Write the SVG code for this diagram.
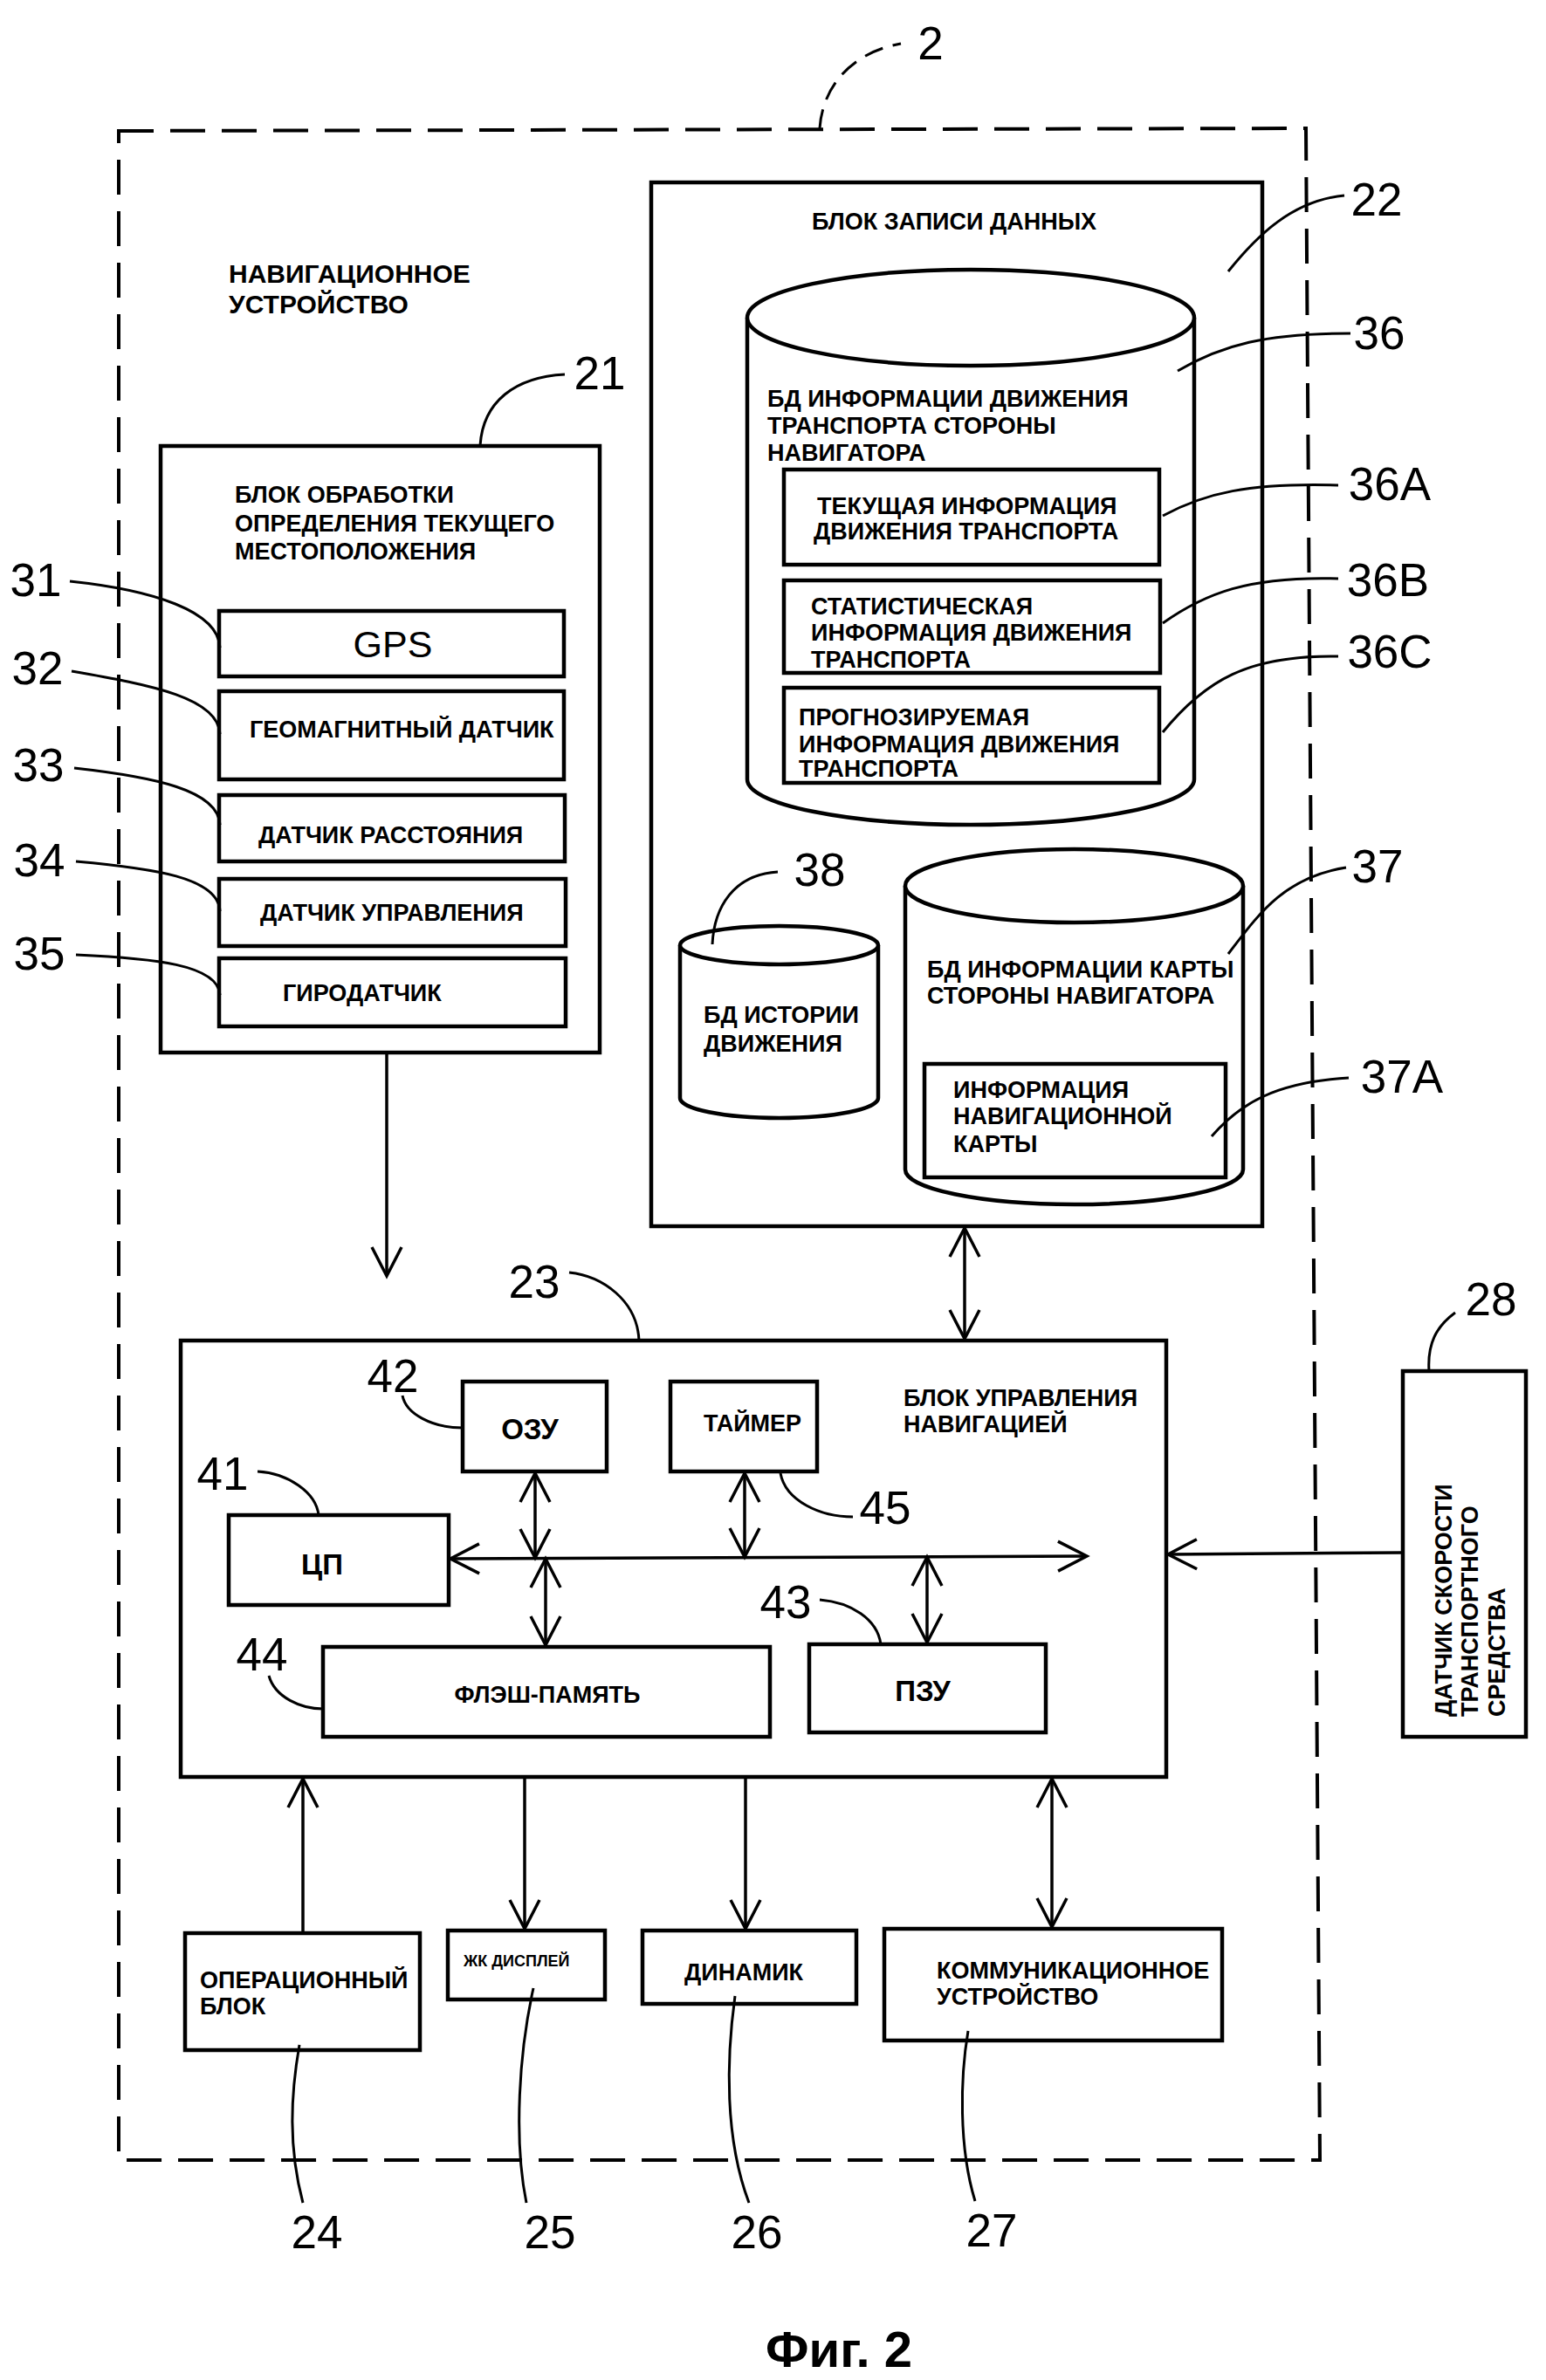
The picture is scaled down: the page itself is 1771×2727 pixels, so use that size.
<svg xmlns="http://www.w3.org/2000/svg" width="1771" height="2727" viewBox="0 0 1771 2727">
<defs>
<style>
.bx{fill:#fff;stroke:#000;stroke-width:4.5}
.cyl{fill:#fff;stroke:#000;stroke-width:4.5}
.ld{fill:none;stroke:#000;stroke-width:3}
.cn{fill:none;stroke:#000;stroke-width:3.5}
.t{font-family:"Liberation Sans",Arial,sans-serif;font-weight:bold;font-size:27px;fill:#000}
.t.tt{font-size:30px}
.t.big{font-size:33px}
.t.sm{font-size:18px}
.n{font-family:"Liberation Sans Narrow","Liberation Sans",Arial,sans-serif;font-size:53px;fill:#000;text-anchor:middle}
.c{text-anchor:middle}
</style>
<marker id="ah" viewBox="0 0 34 34" refX="33" refY="17" markerWidth="34" markerHeight="34" markerUnits="userSpaceOnUse" orient="auto-start-reverse" overflow="visible">
<path d="M0,0 L33,17 L0,34" fill="none" stroke="#000" stroke-width="3.5"/>
</marker>
</defs>
<rect width="1771" height="2727" fill="#fff"/>

<g id="device2">
<path d="M136,150 L1496,147 L1512,2475 L136,2475 Z" fill="none" stroke="#000" stroke-width="4" stroke-dasharray="40 19"/>
<path d="M939,147 C942,100 975,60 1032,50" fill="none" stroke="#000" stroke-width="3" stroke-dasharray="22 12"/>
<text class="n" x="1066" y="68">2</text>
<text class="t tt" x="262" y="324">НАВИГАЦИОННОЕ</text>
<text class="t tt" x="262" y="359">УСТРОЙСТВО</text>
</g>

<g id="node21">
<rect class="bx" x="184" y="511" width="503" height="695"/>
<text class="t" x="269" y="576">БЛОК ОБРАБОТКИ</text>
<text class="t" x="269" y="609">ОПРЕДЕЛЕНИЯ ТЕКУЩЕГО</text>
<text class="t" x="269" y="641">МЕСТОПОЛОЖЕНИЯ</text>
<path class="ld" d="M550,511 C553,460 590,432 647,429"/>
<text class="n" x="687" y="446">21</text>
</g>

<g id="node31">
<rect class="bx" x="251" y="700" width="395" height="75"/>
<text x="450" y="753" font-family="'Liberation Sans Narrow','Liberation Sans',Arial,sans-serif" font-size="43" text-anchor="middle">GPS</text>
<path class="ld" d="M80,666 C175,676 250,700 252,742"/>
<text class="n" x="41" y="683">31</text>
</g>
<g id="node32">
<rect class="bx" x="251" y="792" width="395" height="101"/>
<text class="t" x="286" y="845">ГЕОМАГНИТНЫЙ ДАТЧИК</text>
<path class="ld" d="M82,769 C175,785 250,800 252,841"/>
<text class="n" x="43" y="784">32</text>
</g>
<g id="node33">
<rect class="bx" x="251" y="911" width="396" height="76"/>
<text class="t" x="296" y="966">ДАТЧИК РАССТОЯНИЯ</text>
<path class="ld" d="M85,880 C175,890 250,905 252,945"/>
<text class="n" x="44" y="895">33</text>
</g>
<g id="node34">
<rect class="bx" x="251" y="1007" width="397" height="77"/>
<text class="t" x="298" y="1055">ДАТЧИК УПРАВЛЕНИЯ</text>
<path class="ld" d="M87,987 C175,995 250,1005 252,1044"/>
<text class="n" x="45" y="1004">34</text>
</g>
<g id="node35">
<rect class="bx" x="251" y="1098" width="397" height="78"/>
<text class="t" x="324" y="1147">ГИРОДАТЧИК</text>
<path class="ld" d="M87,1094 C175,1098 250,1105 252,1140"/>
<text class="n" x="45" y="1111">35</text>
</g>

<g id="node22">
<rect class="bx" x="746" y="209" width="700" height="1196"/>
<text class="t" x="930" y="263">БЛОК ЗАПИСИ ДАННЫХ</text>
<path class="ld" d="M1407,311 C1440,270 1480,230 1540,224"/>
<text class="n" x="1577" y="247">22</text>
</g>

<g id="node36">
<path class="cyl" d="M856,364 L856,893 A256,52 0 0 0 1368,893 L1368,364 A256,55 0 0 0 856,364 Z"/>
<path class="cyl" d="M856,364 A256,55 0 0 0 1368,364" fill="none"/>
<text class="t" x="879" y="466">БД ИНФОРМАЦИИ ДВИЖЕНИЯ</text>
<text class="t" x="879" y="497">ТРАНСПОРТА СТОРОНЫ</text>
<text class="t" x="879" y="528">НАВИГАТОРА</text>
<path class="ld" d="M1349,425 C1400,395 1450,382 1547,382"/>
<text class="n" x="1580" y="400">36</text>
</g>
<g id="node36A">
<rect class="bx" x="898" y="538" width="430" height="109"/>
<text class="t" x="936" y="589">ТЕКУЩАЯ ИНФОРМАЦИЯ</text>
<text class="t" x="932" y="618">ДВИЖЕНИЯ ТРАНСПОРТА</text>
<path class="ld" d="M1332,591 C1380,565 1430,553 1533,556"/>
<text class="n" x="1592" y="573">36A</text>
</g>
<g id="node36B">
<rect class="bx" x="898" y="665" width="431" height="106"/>
<text class="t" x="929" y="704">СТАТИСТИЧЕСКАЯ</text>
<text class="t" x="929" y="734">ИНФОРМАЦИЯ ДВИЖЕНИЯ</text>
<text class="t" x="929" y="765">ТРАНСПОРТА</text>
<path class="ld" d="M1332,714 C1380,680 1430,660 1533,663"/>
<text class="n" x="1590" y="683">36B</text>
</g>
<g id="node36C">
<rect class="bx" x="898" y="788" width="430" height="109"/>
<text class="t" x="915" y="831">ПРОГНОЗИРУЕМАЯ</text>
<text class="t" x="915" y="862">ИНФОРМАЦИЯ ДВИЖЕНИЯ</text>
<text class="t" x="915" y="890">ТРАНСПОРТА</text>
<path class="ld" d="M1332,839 C1380,780 1430,750 1533,752"/>
<text class="n" x="1592" y="765">36C</text>
</g>

<g id="node38">
<path class="cyl" d="M779,1083 L779,1258 A113.5,23 0 0 0 1006,1258 L1006,1083 A113.5,22 0 0 0 779,1083 Z"/>
<path class="cyl" d="M779,1083 A113.5,22 0 0 0 1006,1083" fill="none"/>
<text class="t" x="806" y="1172">БД ИСТОРИИ</text>
<text class="t" x="806" y="1205">ДВИЖЕНИЯ</text>
<path class="ld" d="M816,1082 C818,1040 840,1002 891,999"/>
<text class="n" x="939" y="1015">38</text>
</g>

<g id="node37">
<path class="cyl" d="M1037,1015 L1037,1340 A193.5,40 0 0 0 1424,1340 L1424,1015 A193.5,42 0 0 0 1037,1015 Z"/>
<path class="cyl" d="M1037,1015 A193.5,42 0 0 0 1424,1015" fill="none"/>
<text class="t" x="1062" y="1120">БД ИНФОРМАЦИИ КАРТЫ</text>
<text class="t" x="1062" y="1150">СТОРОНЫ НАВИГАТОРА</text>
<path class="ld" d="M1407,1093 C1440,1050 1470,1005 1542,994"/>
<text class="n" x="1578" y="1011">37</text>
</g>
<g id="node37A">
<rect class="bx" x="1059" y="1219" width="345" height="130"/>
<text class="t" x="1092" y="1258">ИНФОРМАЦИЯ</text>
<text class="t" x="1092" y="1288">НАВИГАЦИОННОЙ</text>
<text class="t" x="1092" y="1320">КАРТЫ</text>
<path class="ld" d="M1388,1302 C1420,1265 1460,1240 1545,1235"/>
<text class="n" x="1606" y="1252">37A</text>
</g>

<g id="node23">
<rect class="bx" x="207" y="1536" width="1129" height="500"/>
<text class="t" x="1035" y="1611">БЛОК УПРАВЛЕНИЯ</text>
<text class="t" x="1035" y="1641">НАВИГАЦИЕЙ</text>
<path class="ld" d="M652,1458 C690,1462 730,1490 732,1536"/>
<text class="n" x="612" y="1487">23</text>
</g>
<g id="node42">
<rect class="bx" x="530" y="1583" width="165" height="103"/>
<text class="t big c" x="607" y="1649">ОЗУ</text>
<path class="ld" d="M461,1599 C465,1620 495,1636 530,1636"/>
<text class="n" x="450" y="1595">42</text>
</g>
<g id="node45">
<rect class="bx" x="768" y="1583" width="168" height="103"/>
<text class="t c" x="862" y="1640">ТАЙМЕР</text>
<path class="ld" d="M894,1688 C900,1720 940,1738 977,1738"/>
<text class="n" x="1014" y="1746">45</text>
</g>
<g id="node41">
<rect class="bx" x="262" y="1736" width="252" height="103"/>
<text class="t big c" x="369" y="1804">ЦП</text>
<path class="ld" d="M295,1686 C330,1688 362,1710 365,1736"/>
<text class="n" x="255" y="1707">41</text>
</g>
<g id="node44">
<rect class="bx" x="370" y="1887" width="512" height="103"/>
<text class="t c" x="627" y="1951">ФЛЭШ-ПАМЯТЬ</text>
<path class="ld" d="M308,1920 C315,1945 345,1958 370,1958"/>
<text class="n" x="300" y="1914">44</text>
</g>
<g id="node43">
<rect class="bx" x="927" y="1884" width="271" height="101"/>
<text class="t big c" x="1057" y="1949">ПЗУ</text>
<path class="ld" d="M939,1833 C975,1836 1005,1855 1009,1884"/>
<text class="n" x="900" y="1854">43</text>
</g>

<g id="node28">
<rect class="bx" x="1607" y="1571" width="141" height="419"/>
<text class="t" transform="translate(1663,1967) rotate(-90)">ДАТЧИК СКОРОСТИ</text>
<text class="t" transform="translate(1693,1967) rotate(-90)">ТРАНСПОРТНОГО</text>
<text class="t" transform="translate(1724,1967) rotate(-90)">СРЕДСТВА</text>
<path class="ld" d="M1637,1571 C1635,1540 1645,1520 1667,1504"/>
<text class="n" x="1708" y="1507">28</text>
</g>

<g id="node24">
<rect class="bx" x="212" y="2215" width="269" height="134"/>
<text class="t" x="229" y="2278">ОПЕРАЦИОННЫЙ</text>
<text class="t" x="229" y="2308">БЛОК</text>
<path class="ld" d="M343,2343 C333,2400 330,2460 347,2524"/>
<text class="n" x="363" y="2576">24</text>
</g>
<g id="node25">
<rect class="bx" x="513" y="2212" width="180" height="79"/>
<text class="t sm" x="531" y="2253">ЖК ДИСПЛЕЙ</text>
<path class="ld" d="M611,2278 C595,2350 588,2450 603,2524"/>
<text class="n" x="630" y="2576">25</text>
</g>
<g id="node26">
<rect class="bx" x="736" y="2212" width="245" height="84"/>
<text class="t" x="784" y="2269">ДИНАМИК</text>
<path class="ld" d="M842,2287 C832,2360 830,2450 858,2524"/>
<text class="n" x="867" y="2576">26</text>
</g>
<g id="node27">
<rect class="bx" x="1013" y="2210" width="387" height="128"/>
<text class="t" x="1073" y="2267">КОММУНИКАЦИОННОЕ</text>
<text class="t" x="1073" y="2297">УСТРОЙСТВО</text>
<path class="ld" d="M1109,2327 C1100,2380 1098,2460 1117,2522"/>
<text class="n" x="1136" y="2574">27</text>
</g>

<g id="connectors">
<path class="cn" d="M443,1206 L443,1462" marker-end="url(#ah)"/>
<path class="cn" d="M1105,1407 L1105,1534" marker-start="url(#ah)" marker-end="url(#ah)"/>
<path class="cn" d="M516,1786 L1245,1783" marker-start="url(#ah)" marker-end="url(#ah)"/>
<path class="cn" d="M613,1688 L613,1785" marker-start="url(#ah)" marker-end="url(#ah)"/>
<path class="cn" d="M625,1786 L625,1885" marker-start="url(#ah)" marker-end="url(#ah)"/>
<path class="cn" d="M853,1688 L853,1784" marker-start="url(#ah)" marker-end="url(#ah)"/>
<path class="cn" d="M1062,1784 L1062,1882" marker-start="url(#ah)" marker-end="url(#ah)"/>
<path class="cn" d="M1607,1779 L1338,1781" marker-end="url(#ah)"/>
<path class="cn" d="M347,2215 L347,2038" marker-end="url(#ah)"/>
<path class="cn" d="M601,2036 L601,2210" marker-end="url(#ah)"/>
<path class="cn" d="M854,2036 L854,2210" marker-end="url(#ah)"/>
<path class="cn" d="M1205,2038 L1205,2208" marker-start="url(#ah)" marker-end="url(#ah)"/>
</g>

<text x="961" y="2712" font-family="'Liberation Sans',Arial,sans-serif" font-weight="bold" font-size="58" text-anchor="middle">Фиг. 2</text>
</svg>
